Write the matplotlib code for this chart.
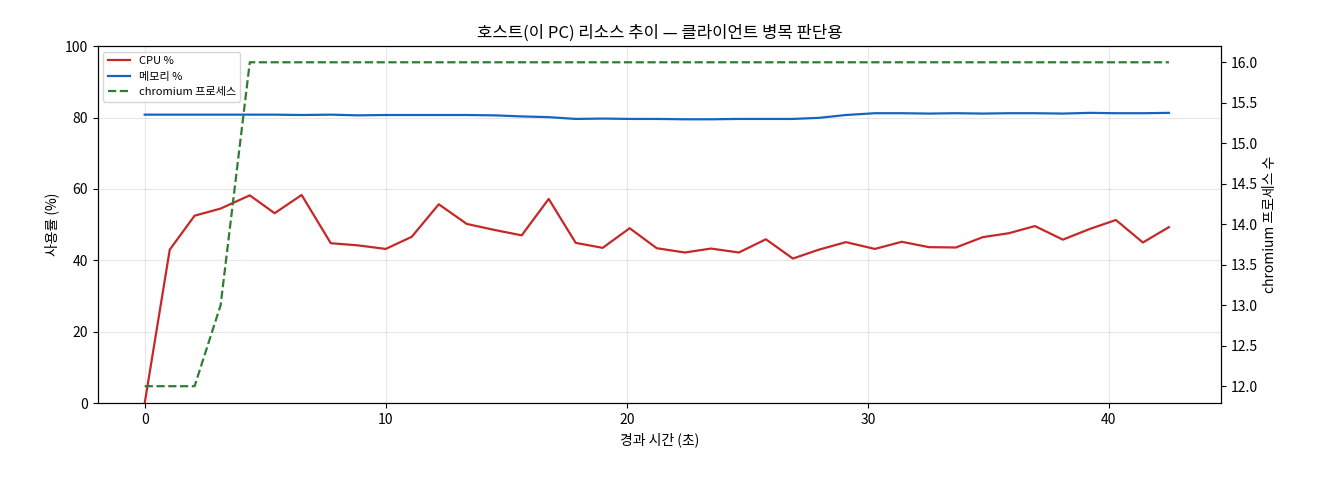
import matplotlib
matplotlib.use("Agg")
import matplotlib.pyplot as plt

plt.rcParams['font.family'] = ['Noto Sans CJK KR', 'DejaVu Sans']
plt.rcParams['axes.unicode_minus'] = False

t = [0.0, 1.04, 2.07, 3.15, 4.36, 5.39, 6.51, 7.72, 8.84, 10.0, 11.08, 12.2, 13.36, 14.52, 15.64, 16.76, 17.88, 19.0, 20.12, 21.24, 22.41, 23.49, 24.65, 25.77, 26.89, 27.97, 29.09, 30.29, 31.41, 32.53, 33.65, 34.77, 35.85, 36.93, 38.09, 39.21, 40.29, 41.41, 42.49]
cpu = [0, 43, 52.5, 54.5, 58.2, 53.2, 58.3, 44.8, 44.2, 43.2, 46.6, 55.7, 50.2, 48.5, 47.0, 57.2, 44.9, 43.5, 49.0, 43.4, 42.2, 43.3, 42.2, 45.9, 40.5, 43.0, 45.1, 43.2, 45.2, 43.7, 43.6, 46.5, 47.6, 49.6, 45.8, 48.8, 51.3, 45.0, 49.3]
mem = [80.8, 80.8, 80.8, 80.8, 80.8, 80.8, 80.7, 80.8, 80.6, 80.7, 80.7, 80.7, 80.7, 80.6, 80.3, 80.1, 79.6, 79.7, 79.6, 79.6, 79.5, 79.5, 79.6, 79.6, 79.6, 79.9, 80.7, 81.2, 81.2, 81.1, 81.2, 81.1, 81.2, 81.2, 81.1, 81.3, 81.2, 81.2, 81.3]
procs = [12, 12, 12, 13, 16, 16, 16, 16, 16, 16, 16, 16, 16, 16, 16, 16, 16, 16, 16, 16, 16, 16, 16, 16, 16, 16, 16, 16, 16, 16, 16, 16, 16, 16, 16, 16, 16, 16, 16]

fig, ax = plt.subplots(figsize=(13.2, 4.8), dpi=100)
l1, = ax.plot(t, cpu, color='#c62828', lw=1.6, label='CPU %')
l2, = ax.plot(t, mem, color='#1565c0', lw=1.6, label='메모리 %')
ax.set_ylim(0, 100)
ax.set_xlim(-1.95, 44.65)
ax.set_xlabel('경과 시간 (초)')
ax.set_ylabel('사용률 (%)')
ax.grid(True, alpha=0.3)
ax2 = ax.twinx()
l3, = ax2.plot(t, procs, color='#2e7d32', lw=1.6, ls='--', label='chromium 프로세스')
ax2.set_ylim(11.79, 16.2)
ax2.set_ylabel('chromium 프로세스 수')
ax.set_title('호스트(이 PC) 리소스 추이 — 클라이언트 병목 판단용')
ax.legend(handles=[l1, l2, l3], loc='upper left', fontsize=8)
fig.subplots_adjust(left=0.074, right=0.925, top=0.904, bottom=0.16)
fig.savefig('out.png')
